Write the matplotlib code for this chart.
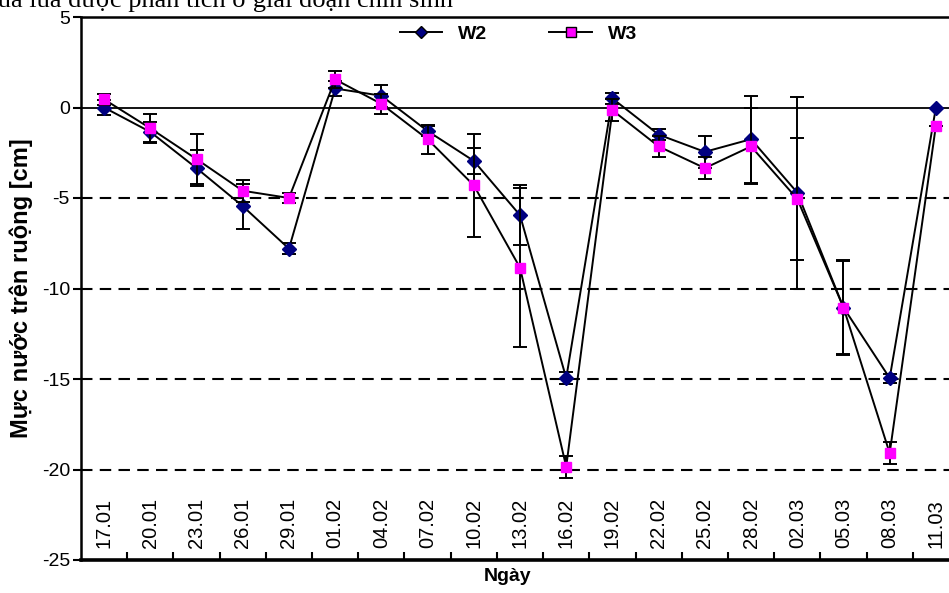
import matplotlib
matplotlib.use('Agg')
import matplotlib.pyplot as plt
from matplotlib.lines import Line2D
import numpy as np

plt.rcParams['font.family'] = ['Liberation Sans', 'DejaVu Sans']

ngay = ['17.01', '20.01', '23.01', '26.01', '29.01', '01.02', '04.02', '07.02', '10.02', '13.02',
        '16.02', '19.02', '22.02', '25.02', '28.02', '02.03', '05.03', '08.03', '11.03']
w2 = [0.0, -1.35, -3.35, -5.45, -7.8, 1.05, 0.65, -1.3, -2.95, -5.95,
      -14.95, 0.5, -1.5, -2.45, -1.75, -4.7, -11.05, -14.95, 0.0]
w2_err = [0.4, 0.55, 1.0, 1.25, 0.3, 0.4, 0.6, 0.3, 0.7, 1.65,
          0.33, 0.3, 0.3, 0.9, 2.4, 5.3, 2.55, 0.25, 0.0]
w3 = [0.45, -1.15, -2.85, -4.6, -5.0, 1.55, 0.2, -1.75, -4.3, -8.85,
      -19.85, -0.15, -2.15, -3.35, -2.15, -5.05, -11.05, -19.1, -1.0]
w3_err = [0.3, 0.8, 1.4, 0.6, 0.3, 0.45, 0.55, 0.8, 2.85, 4.4,
          0.6, 0.6, 0.6, 0.6, 2.1, 3.35, 2.6, 0.6, 0.0]
y_ticks = [-25, -20, -15, -10, -5, 0, 5]

x = np.arange(len(ngay))

fig = plt.figure(figsize=(9.49, 5.93), dpi=100)
ax = fig.add_axes([81 / 949, 33 / 593, 878 / 949, 543 / 593])

# luoi ngang
for v in [-5, -10, -15, -20]:
    ax.axhline(v, color='black', lw=1.5, dashes=(5.5, 3.5), zorder=1)
ax.axhline(0, color='black', lw=1.3, zorder=1)

ax.errorbar(x, w2, yerr=w2_err, color='black', lw=1.4, elinewidth=1.4, capsize=5, capthick=1.4,
            marker='D', markersize=7, markerfacecolor='#000080', markeredgecolor='#000080',
            zorder=3)
ax.errorbar(x, w3, yerr=w3_err, color='black', lw=1.4, elinewidth=1.4, capsize=5, capthick=1.4,
            marker='s', markersize=7.5, markerfacecolor='#FF00FF', markeredgecolor='#FF00FF',
            zorder=4)

ax.set_xlim(-0.5, len(ngay) - 0.5)
ax.set_ylim(-25, 5)
ax.set_yticks(y_ticks)
ax.set_yticklabels([str(v) for v in y_ticks], fontsize=14)
ax.tick_params(axis='y', direction='out', length=6, width=1.5, pad=2)

ax.set_xticks(x, ngay, fontsize=14.5, rotation=90)
ax.tick_params(axis='x', which='major', length=0, pad=-9)
for t in ax.get_xticklabels():
    t.set_va('bottom')
ax.set_xticks(x[:-1] + 0.5, minor=True)
ax.tick_params(axis='x', which='minor', direction='in', length=6, width=1.5)

ax.spines['right'].set_visible(False)
ax.spines['left'].set_linewidth(1.8)
ax.spines['top'].set_linewidth(1.8)
ax.spines['bottom'].set_linewidth(2.6)

ax.set_ylabel('Mực nước trên ruộng [cm]', fontsize=17, fontweight='bold')
ax.yaxis.set_label_coords(-0.055, 0.5)
ax.set_xlabel('Ngày', fontsize=14, fontweight='bold')
ax.xaxis.set_label_coords(0.486, -0.015)

handles = [
    Line2D([], [], color='black', lw=1.4, marker='D', markersize=6.5,
           markerfacecolor='#000080', markeredgecolor='black'),
    Line2D([], [], color='black', lw=1.4, marker='s', markersize=7,
           markerfacecolor='#FF00FF', markeredgecolor='black'),
]
ax.legend(handles, ['W2', 'W3'], loc='center', bbox_to_anchor=(0.498, 0.969), ncol=2,
          frameon=False, prop={'weight': 'bold', 'size': 14}, handlelength=2.2,
          handletextpad=0.8, columnspacing=3.2)

fig.text(453 / 949, 1 - 7 / 593, 'của lúa được phân tích ở giai đoạn chín sinh', ha='right',
         va='baseline', fontsize=19, family=['Liberation Serif', 'DejaVu Serif'])

fig.savefig('out.png', dpi=100)
